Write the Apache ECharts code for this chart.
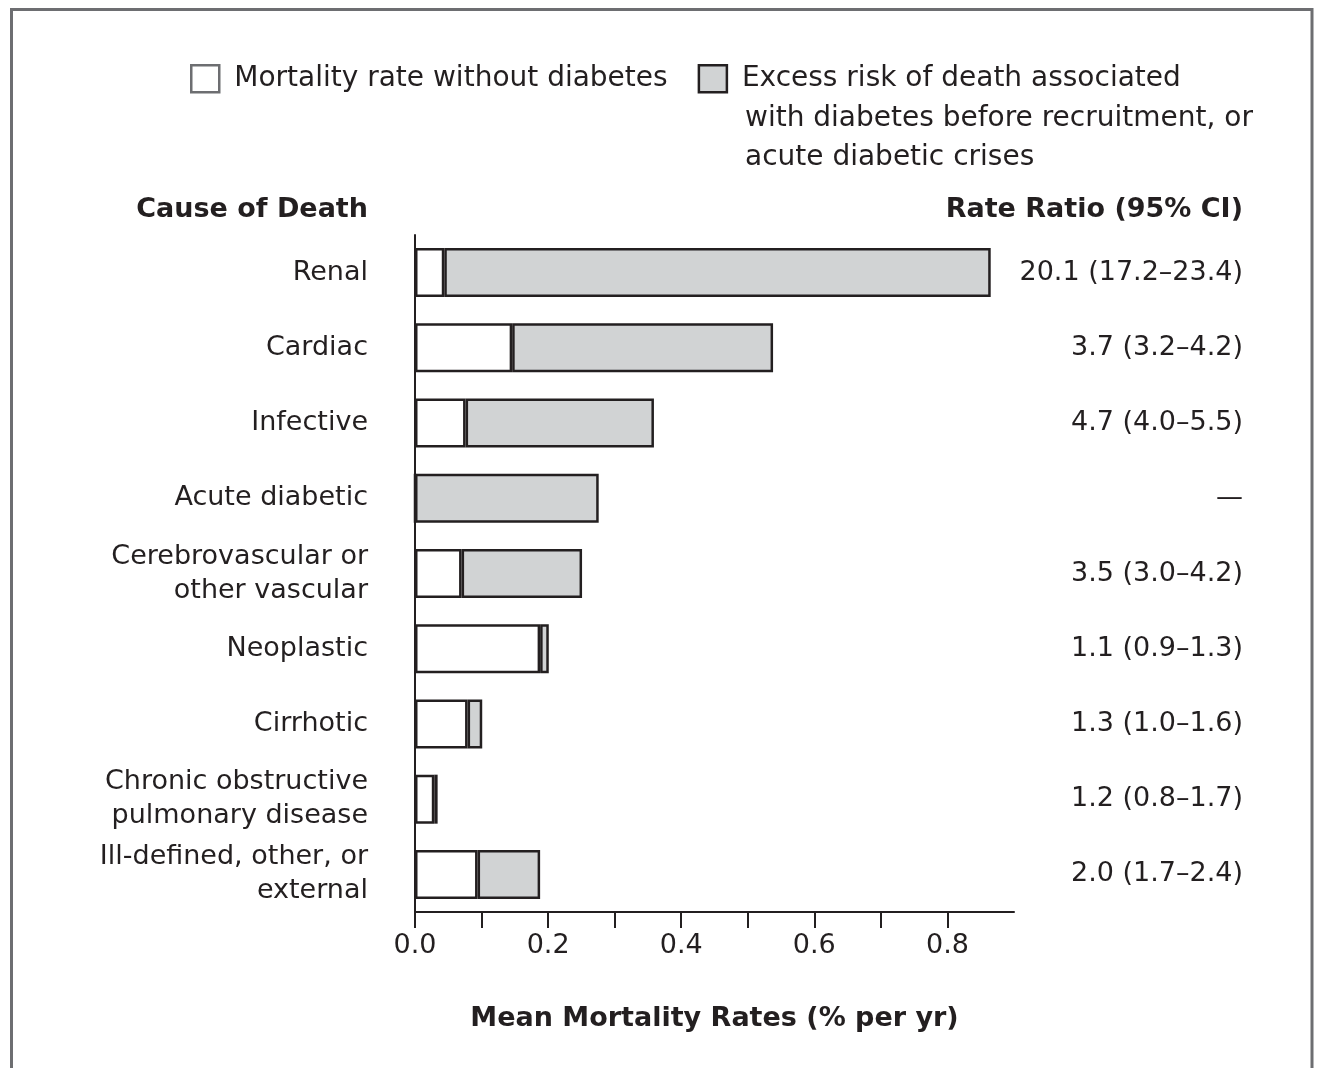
<!DOCTYPE html>
<html>
<head>
<meta charset="utf-8">
<title>Mean Mortality Rates by Cause of Death</title>
<script src="https://cdn.jsdelivr.net/npm/echarts@6/dist/echarts.min.js"></script>
<style>
  html, body { margin: 0; padding: 0; background: #ffffff; }
  #chart { width: 1320px; height: 1068px; }
</style>
</head>
<body>
<div id="chart"></div>
<script>
// Causes of death, top to bottom
const causes = [
  'Renal',
  'Cardiac',
  'Infective',
  'Acute diabetic',
  'Cerebrovascular or\nother vascular',
  'Neoplastic',
  'Cirrhotic',
  'Chronic obstructive\npulmonary disease',
  'Ill-defined, other, or\nexternal'
];

// Mean mortality rate (% per yr) without diabetes
const rateWithoutDiabetes = [0.044, 0.146, 0.076, 0, 0.070, 0.188, 0.079, 0.029, 0.094];

// Excess rate associated with diabetes or acute diabetic crises (% per yr)
const excessRisk = [0.821, 0.392, 0.283, 0.276, 0.181, 0.013, 0.022, 0.005, 0.094];

// Rate ratio (95% CI) shown at the right of each row
const rateRatios = [
  '20.1 (17.2\u201323.4)',
  '3.7 (3.2\u20134.2)',
  '4.7 (4.0\u20135.5)',
  '\u2014',
  '3.5 (3.0\u20134.2)',
  '1.1 (0.9\u20131.3)',
  '1.3 (1.0\u20131.6)',
  '1.2 (0.8\u20131.7)',
  '2.0 (1.7\u20132.4)'
];

const seriesNames = [
  'Mortality rate without diabetes',
  'Excess risk of death associated\nwith diabetes before recruitment, or\nacute diabetic crises'
];

const ink = '#231f20';
const fontFamily = '"DejaVu Sans", "Open Sans", sans-serif';

// The legend shows the first line of each name beside its swatch;
// the remaining lines of the long name hang underneath it.
const nameLines = seriesNames[1].split('\n');

const chart = echarts.init(document.getElementById('chart'), null, { renderer: 'canvas' });

chart.setOption({
  backgroundColor: '#ffffff',
  animation: false,
  textStyle: { fontFamily: fontFamily, color: ink },
  graphic: [
    {
      type: 'rect',
      shape: { x: 11.5, y: 9.5, width: 1300.5, height: 1100 },
      style: { fill: 'none', stroke: '#6d6e71', lineWidth: 3 },
      z: 100
    },
    {
      type: 'text',
      left: 745,
      top: 99,
      style: {
        text: nameLines.slice(1).join('\n'),
        font: '28px ' + fontFamily,
        lineHeight: 39,
        fill: ink
      }
    },
    {
      type: 'text',
      right: 952,
      top: 196,
      style: { text: 'Cause of Death', font: 'bold 27px ' + fontFamily, fill: ink }
    },
    {
      type: 'text',
      right: 77,
      top: 196,
      style: { text: 'Rate Ratio (95% CI)', font: 'bold 27px ' + fontFamily, fill: ink }
    }
  ],
  legend: {
    left: 185,
    top: 59,
    itemWidth: 28,
    itemHeight: 27,
    itemGap: 30,
    selectedMode: false,
    textStyle: { fontSize: 28, color: ink, fontFamily: fontFamily, padding: [0, 0, 0, 10] },
    formatter: function (name) {
      return name.split('\n')[0];
    },
    data: [
      {
        name: seriesNames[0],
        icon: 'rect',
        itemStyle: { color: '#ffffff', borderColor: '#6d6e71', borderWidth: 2.5 }
      },
      {
        name: seriesNames[1],
        icon: 'rect',
        itemStyle: { color: '#d1d3d4', borderColor: ink, borderWidth: 2.5 }
      }
    ]
  },
  grid: {
    left: 415,
    right: 306,
    top: 235,
    bottom: 156,
    containLabel: false
  },
  xAxis: {
    type: 'value',
    min: 0,
    max: 0.9,
    interval: 0.1,
    name: 'Mean Mortality Rates (% per yr)',
    nameLocation: 'middle',
    nameGap: 93,
    nameTextStyle: { fontSize: 27, fontWeight: 'bold', color: ink, fontFamily: fontFamily },
    axisLine: { show: true, lineStyle: { color: ink, width: 2 } },
    axisTick: { show: true, length: 16, lineStyle: { color: ink, width: 2 } },
    splitLine: { show: false },
    axisLabel: {
      fontSize: 27,
      color: ink,
      margin: 20,
      showMaxLabel: false,
      formatter: function (v) {
        return Math.round(v * 10) % 2 === 0 ? v.toFixed(1) : '';
      }
    }
  },
  yAxis: [
    {
      type: 'category',
      data: causes,
      inverse: true,
      axisLine: { show: true, lineStyle: { color: ink, width: 2 } },
      axisTick: { show: false },
      splitLine: { show: false },
      axisLabel: {
        interval: 0,
        fontSize: 27,
        lineHeight: 34,
        color: ink,
        margin: 47,
        align: 'right'
      }
    },
    {
      type: 'category',
      data: rateRatios,
      inverse: true,
      position: 'right',
      axisLine: { show: false },
      axisTick: { show: false },
      splitLine: { show: false },
      axisLabel: {
        interval: 0,
        fontSize: 27,
        color: ink,
        margin: 229,
        align: 'right'
      }
    }
  ],
  series: [
    {
      name: seriesNames[0],
      type: 'bar',
      stack: 'rate',
      yAxisIndex: 0,
      barWidth: 49,
      data: rateWithoutDiabetes,
      itemStyle: { color: '#ffffff', borderColor: ink, borderWidth: 2.5 }
    },
    {
      name: seriesNames[1],
      type: 'bar',
      stack: 'rate',
      yAxisIndex: 0,
      barWidth: 49,
      data: excessRisk,
      itemStyle: { color: '#d1d3d4', borderColor: ink, borderWidth: 2.5 }
    }
  ]
});
</script>
</body>
</html>
